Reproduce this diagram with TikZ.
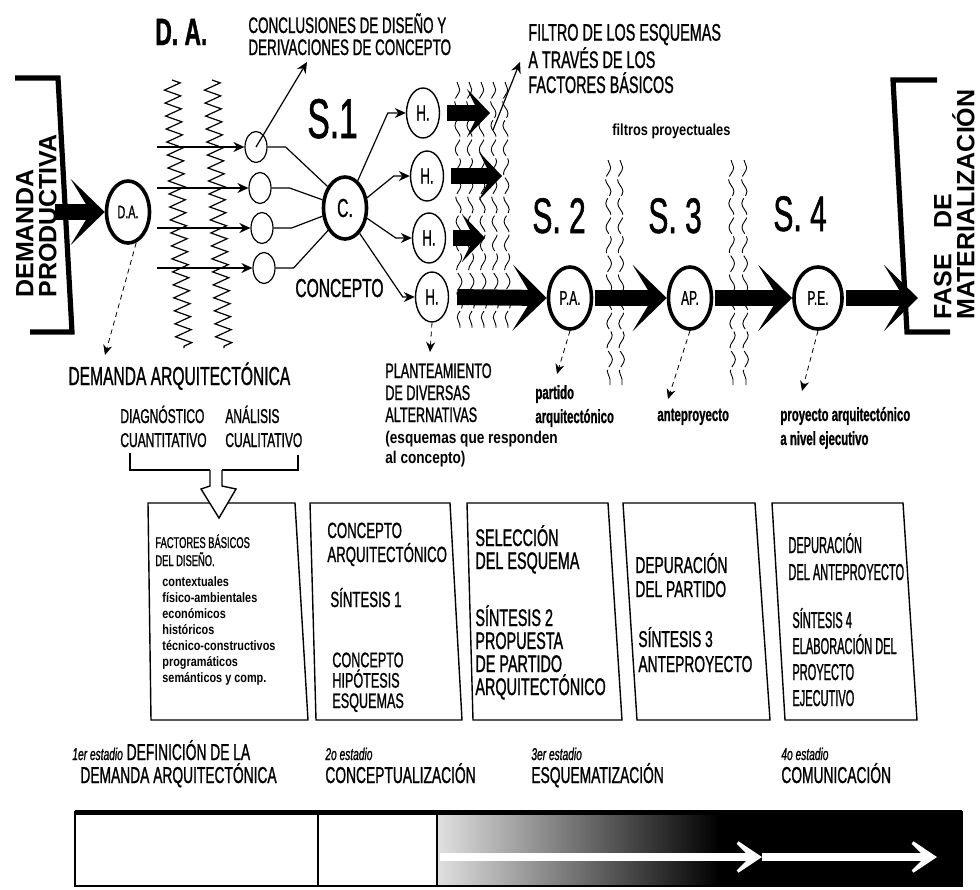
\documentclass[tikz,border=0pt]{standalone}
\usepackage{fontspec}
\setmainfont{Liberation Sans}
\newfontfamily\hand{Liberation Sans}[FakeStretch=0.6, FakeBold=1]
\newfontfamily\handn{Liberation Sans}[FakeStretch=0.48, FakeBold=1]
\newfontfamily\handw{Liberation Sans}[FakeStretch=0.8]
\usetikzlibrary{positioning,arrows.meta,calc,decorations.pathmorphing,shapes.geometric}

\begin{document}
\begin{tikzpicture}[x=0.5pt, y=-0.5pt,
  bubble/.style={ellipse, draw, line width=1.8pt, inner sep=0pt, minimum width=21.5pt, minimum height=31pt, font=\hand\fontsize{10}{10}\selectfont},
  hyp/.style={ellipse, draw, line width=0.7pt, inner sep=0pt, minimum width=16.5pt, minimum height=25pt, font=\hand\fontsize{11}{11}\selectfont},
  pip/.style={ellipse, draw, line width=0.6pt, inner sep=0pt, minimum width=11pt, minimum height=15.5pt},
  link/.style={line width=0.6pt},
  thinarrow/.style={line width=0.6pt, -{Stealth[length=5.5pt,width=5pt]}},
  guide/.style={line width=0.4pt, dash pattern=on 2.5pt off 2pt, -{Stealth[length=5pt,width=4.5pt]}},
  bigarrow/.style={line width=8pt, -{Stealth[length=17pt,width=33pt,inset=10pt]}},
  midarrow/.style={line width=8pt, -{Stealth[length=11.5pt,width=24pt,inset=6pt]}},
  whitearrow/.style={white, line width=4pt, -{Stealth[length=18pt,width=24pt,inset=12pt]}},
  zig/.style={decorate, decoration={zigzag, amplitude=4pt, segment length=6.5pt}, line width=0.6pt},
  filt/.style={decorate, decoration={snake, amplitude=1.3pt, segment length=12pt}, line width=0.45pt, dash pattern=on 9pt off 1.5pt},
  boxline/.style={line width=0.7pt},
  lab/.style={inner sep=0pt, anchor=base west, align=left}]
  \useasboundingbox (0,0) rectangle (980,889);

  % filtros
  \foreach \x in {457,469,481,493,505} \draw[filt] (\x,82) -- ({\x+3},330);
  \foreach \x in {608,620} \draw[filt] (\x,160) -- ({\x+2},385);
  \foreach \x in {731,744} \draw[filt] (\x,160) -- ({\x+2},385);

  % zigzag
  \draw[zig] (172,80) -- (184,348);
  \draw[zig] (212,80) -- (224,348);

  % corchetes
  \draw[line width=2.6pt] (15,78) -- (58,78) -- (72,332) -- (30,332);
  \draw[line width=2.6pt] (937,80) -- (893,80) -- (907,332) -- (950,332);

  % nodos
  \node[bubble, font=\hand\fontsize{9}{9}\selectfont] (da) at (128,212) {D.A.};
  \foreach \i/\x/\y in {1/256/147,2/260/188,3/262/228,4/264/268}
    \node[pip] (s\i) at (\x,\y) {};
  \node[bubble, font=\hand\fontsize{13}{13}\selectfont] (c) at (345,208) {C.};
  \foreach \i/\x/\y in {1/423/113,2/427/176,3/429/238,4/432/297}
    \node[hyp] (h\i) at (\x,\y) {H.};
  \node[bubble] (pa) at (570,298) {P.A.};
  \node[bubble] (ap) at (690,298) {AP.};
  \node[bubble, minimum width=24pt] (pe) at (818,298) {P.E.};

  % conectores finos
  \foreach \i/\y in {1/147,2/188,3/228,4/268} {
    \coordinate (in\i) at (157,\y);
    \draw[thinarrow] (in\i) -- (s\i);
  }
  \foreach \i/\a in {1/129,2/160,3/200,4/233}
    \draw[link] (s\i.east) -- ++(18,0) -- (c.\a);
  \draw[thinarrow] (c.65) -- ([xshift=-9pt]h1.west) -- (h1.west);
  \draw[thinarrow] (c.25) -- ([xshift=-8pt]h2.west) -- (h2.west);
  \draw[thinarrow] (c.-25) -- ([xshift=-8pt]h3.west) -- (h3.west);
  \draw[thinarrow] (c.-60) -- ([xshift=-6pt]h4.west) -- (h4.west);
  \coordinate (cclTip) at (307,62);
  \draw[thinarrow] (s1.center) -- (cclTip);
  \coordinate (filtBase) at (493,130);
  \coordinate (filtTip) at (520,62);
  \draw[thinarrow] (filtBase) -- (filtTip);

  % flechas gruesas
  \coordinate (dpIn) at (55,212);
  \draw[bigarrow] (dpIn) -- (da.west);
  \coordinate (hx1) at (490,113);
  \coordinate (hx2) at (502,176);
  \coordinate (hx3) at (485,238);
  \foreach \i in {1,2,3}
    \draw[midarrow, shorten <=3.5pt] (h\i.east) -- (hx\i);
  \draw[bigarrow, shorten <=4pt] (h4.east) -- (pa.west);
  \draw[bigarrow, shorten <=1pt] (pa.east) -- (ap.west);
  \draw[bigarrow, shorten <=1pt] (ap.east) -- (pe.west);
  \coordinate (matIn) at (918,298);
  \draw[bigarrow, shorten <=1pt] (pe.east) -- (matIn);

  % guias punteadas
  \coordinate (daT) at (105,355);
  \coordinate (h4T) at (430,352);
  \coordinate (paT) at (557,374);
  \coordinate (apT) at (668,399);
  \coordinate (peT) at (802,391);
  \draw[guide] (da.-75) -- (daT);
  \draw[guide] (h4.south) -- (h4T);
  \draw[guide] (pa.south) -- (paT);
  \draw[guide] (ap.south) -- (apT);
  \draw[guide] (pe.south) -- (peT);

  % textos superiores (base = ultima linea)
  \node[lab, font=\hand\bfseries\fontsize{19}{19}\selectfont] (datitle) at (155,45) {D.\ A.};
  \node[lab, font=\hand\fontsize{11.2}{11}\selectfont] (concl) at (248,55) {CONCLUSIONES DE DISEÑO Y\\DERIVACIONES DE CONCEPTO};
  \node[lab, font=\hand\fontsize{12}{12.5}\selectfont] (filtro) at (528,93) {FILTRO DE LOS ESQUEMAS\\A TRAVÉS DE LOS\\FACTORES BÁSICOS};
  \node[lab, font=\handw\bfseries\fontsize{8}{8}\selectfont] (fproy) at (612,135) {filtros proyectuales};
  \node[lab, font=\hand\fontsize{28}{28}\selectfont] (st1) at (307,138) {S.1};
  \node[lab, font=\hand\fontsize{25}{25}\selectfont] (st2) at (532,233) {S.\ 2};
  \node[lab, font=\hand\fontsize{25}{25}\selectfont] (st3) at (648,233) {S.\ 3};
  \node[lab, font=\hand\fontsize{25}{25}\selectfont] (st4) at (773,231) {S.\ 4};
  \node[lab, font=\hand\fontsize{13}{13}\selectfont] (concepto) at (295,297) {CONCEPTO};
  \node[font=\bfseries\fontsize{12.5}{11.5}\selectfont, rotate=90, anchor=south west, align=left, inner sep=0pt] (demprod) at (57,298) {DEMANDA\\PRODUCTIVA};
  \node[font=\bfseries\fontsize{12.5}{11.5}\selectfont, rotate=90, anchor=south west, align=left, inner sep=0pt] (fase) at (975,320) {FASE\hspace{13pt}DE\\MATERIALIZACIÓN};

  % textos intermedios
  \node[lab, font=\hand\fontsize{13}{13}\selectfont] (demarq) at (68,385) {DEMANDA ARQUITECTÓNICA};
  \node[lab, font=\hand\fontsize{10}{12}\selectfont] (diag) at (120,447) {DIAGNÓSTICO\\CUANTITATIVO};
  \node[lab, font=\hand\fontsize{10}{12}\selectfont] (anal) at (225,447) {ANÁLISIS\\CUALITATIVO};
  \node[lab, font=\hand\fontsize{10.5}{11}\selectfont] (plant) at (385,422) {PLANTEAMIENTO\\DE DIVERSAS\\ALTERNATIVAS};
  \node[lab, font=\handw\bfseries\fontsize{8.5}{10}\selectfont] (esq) at (385,463) {(esquemas que responden\\al concepto)};
  \node[lab, font=\hand\bfseries\fontsize{9.5}{12}\selectfont] (partido) at (535,423) {partido\\arquitectónico};
  \node[lab, font=\hand\bfseries\fontsize{9.5}{12}\selectfont] (antep) at (657,421) {anteproyecto};
  \node[lab, font=\hand\bfseries\fontsize{9.5}{12}\selectfont] (proyej) at (780,445) {proyecto arquitectónico\\a nivel ejecutivo};

  % cajas
  \foreach \a/\b/\c/\d in {148/295/308/151, 310/450/462/316, 467/608/622/473, 623/755/770/637, 772/903/917/785}
    \draw[boxline] (\a,503) -- (\b,503) -- (\c,720) -- (\d,720) -- cycle;

  % llave y flecha hueca
  \draw[line width=0.7pt] (130,453) -- (130,470) -- (210,470) (222,470) -- (298,470) -- (298,455);
  \draw[line width=0.7pt, fill=white] (210,470) -- (210,486) -- (201,489) -- (219,518) -- (236,489) -- (222,486) -- (222,470);

  % textos de cajas
  \node[lab, font=\hand\fontsize{7.8}{9}\selectfont] (fb) at (155,566) {FACTORES BÁSICOS\\DEL DISEÑO.};
  \node[lab, font=\handw\bfseries\fontsize{6.8}{8}\selectfont] (fblist) at (162,682) {contextuales\\físico-ambientales\\económicos\\históricos\\técnico-constructivos\\programáticos\\semánticos y comp.};
  \node[lab, font=\hand\fontsize{11}{12}\selectfont] (b2a) at (327,562) {CONCEPTO\\ARQUITECTÓNICO};
  \node[lab, font=\hand\fontsize{11}{12}\selectfont] (b2b) at (330,607) {SÍNTESIS 1};
  \node[lab, font=\hand\fontsize{10.5}{10.2}\selectfont] (b2c) at (332,708) {CONCEPTO\\HIPÓTESIS\\ESQUEMAS};
  \node[lab, font=\hand\fontsize{12}{11.5}\selectfont] (b3a) at (475,569) {SELECCIÓN\\DEL ESQUEMA};
  \node[lab, font=\hand\fontsize{12}{11.5}\selectfont] (b3b) at (475,695) {SÍNTESIS 2\\PROPUESTA\\DE PARTIDO\\ARQUITECTÓNICO};
  \node[lab, font=\hand\fontsize{11.5}{12}\selectfont] (b4a) at (635,597) {DEPURACIÓN\\DEL PARTIDO};
  \node[lab, font=\hand\fontsize{11.5}{12.5}\selectfont] (b4b) at (638,672) {SÍNTESIS 3\\ANTEPROYECTO};
  \node[lab, font=\handn\fontsize{11.5}{13.5}\selectfont] (b5a) at (788,580) {DEPURACIÓN\\DEL ANTEPROYECTO};
  \node[lab, font=\handn\fontsize{11.5}{13}\selectfont] (b5b) at (792,706) {SÍNTESIS 4\\ELABORACIÓN DEL\\PROYECTO\\EJECUTIVO};

  % estadios
  \node[lab, font=\hand\fontsize{11.5}{11.5}\selectfont] (e1) at (72,783) {{\itshape\fontsize{8.5}{8.5}\selectfont 1er estadio} DEFINICIÓN DE LA\\\hspace*{4pt}DEMANDA ARQUITECTÓNICA};
  \node[lab, font=\hand\fontsize{11.5}{11.5}\selectfont] (e2) at (325,783) {{\itshape\fontsize{8.5}{8.5}\selectfont 2o estadio}\\CONCEPTUALIZACIÓN};
  \node[lab, font=\hand\fontsize{11.5}{11.5}\selectfont] (e3) at (531,783) {{\itshape\fontsize{8.5}{8.5}\selectfont 3er estadio}\\ESQUEMATIZACIÓN};
  \node[lab, font=\hand\fontsize{11.5}{11.5}\selectfont] (e4) at (781,783) {{\itshape\fontsize{8.5}{8.5}\selectfont 4o estadio}\\COMUNICACIÓN};

  % barra inferior
  \shade[left color=black!12, right color=black] (437,812) rectangle (720,886);
  \fill[black] (720,812) rectangle (962,886);
  \draw[line width=1.2pt] (75,812) rectangle (962,886);
  \draw[line width=2.5pt] (75,812) -- (962,812);
  \draw[line width=0.6pt] (318,812) -- (318,886);
  \draw[line width=0.6pt] (437,812) -- (437,886);
  \coordinate (barA) at (440,857);
  \coordinate (barB) at (762,857);
  \coordinate (barC) at (937,857);
  \draw[whitearrow] (barA) -- (barB);
  \draw[whitearrow] (barB) -- (barC);
\end{tikzpicture}
\end{document}
